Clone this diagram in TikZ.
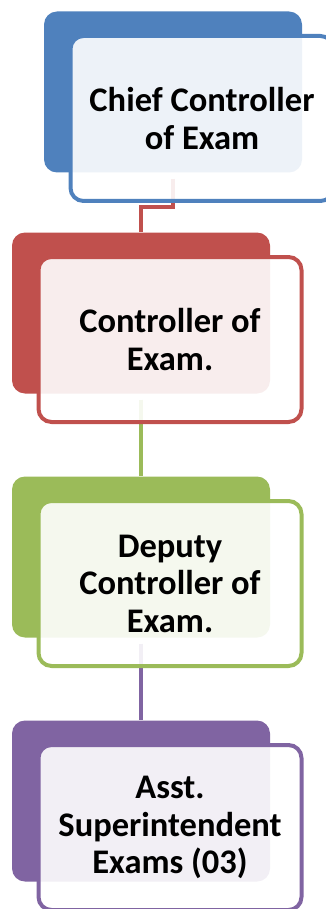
\documentclass[tikz,border=0pt]{standalone}
\usepackage{fontspec}
\setmainfont{Carlito}
\usepackage{tikz}
\usetikzlibrary{positioning}

\definecolor{chiefblue}{HTML}{4F81BD}
\definecolor{ctrlred}{HTML}{C0504D}
\definecolor{deputygreen}{HTML}{9BBB59}
\definecolor{asstpurple}{HTML}{8064A2}

\begin{document}
\begin{tikzpicture}[x=1pt, y=-1pt, node distance=244pt]

\tikzstyle{back} = [rectangle, rounded corners=13pt, minimum width=258pt, minimum height=161pt, inner sep=0pt]
\tikzstyle{front} = [rectangle, rounded corners=13pt, minimum width=263pt, minimum height=165pt, line width=4pt, fill=white, fill opacity=0.9, text opacity=1, align=center, inner sep=0pt, font=\fontsize{34.5}{37.5}\selectfont\bfseries]
\tikzstyle{link} = [line width=4pt]

\useasboundingbox (0,0) rectangle (325,909);

% coloured back panels
\node (chiefback) [back, fill=chiefblue] at (173,92) {};
\node (ctrlback) [back, fill=ctrlred, below of=chiefback, yshift=23pt, xshift=-32pt] {};
\node (deputyback) [back, fill=deputygreen, below of=ctrlback] {};
\node (asstback) [back, fill=asstpurple, below of=deputyback] {};

% links between levels
\draw [link, ctrlred] ([yshift=-6pt]chiefback.south) -- ++(0,28) -| (ctrlback.north);
\draw [link, deputygreen] ([yshift=-6pt]ctrlback.south) -- (deputyback.north);
\draw [link, asstpurple] ([yshift=-6pt]deputyback.south) -- (asstback.north);

% text boxes
\node (chief) [front, draw=chiefblue, xshift=29pt, yshift=-26.5pt] at (chiefback) {Chief Controller\\of Exam};
\node (ctrl) [front, draw=ctrlred, xshift=29pt, yshift=-26.5pt] at (ctrlback) {Controller of\\Exam.};
\node (deputy) [front, draw=deputygreen, xshift=29pt, yshift=-26.5pt] at (deputyback) {Deputy\\Controller of\\Exam.};
\node (asst) [front, draw=asstpurple, xshift=29pt, yshift=-26.5pt] at (asstback) {Asst.\\Superintendent\\Exams (03)};

\end{tikzpicture}
\end{document}
